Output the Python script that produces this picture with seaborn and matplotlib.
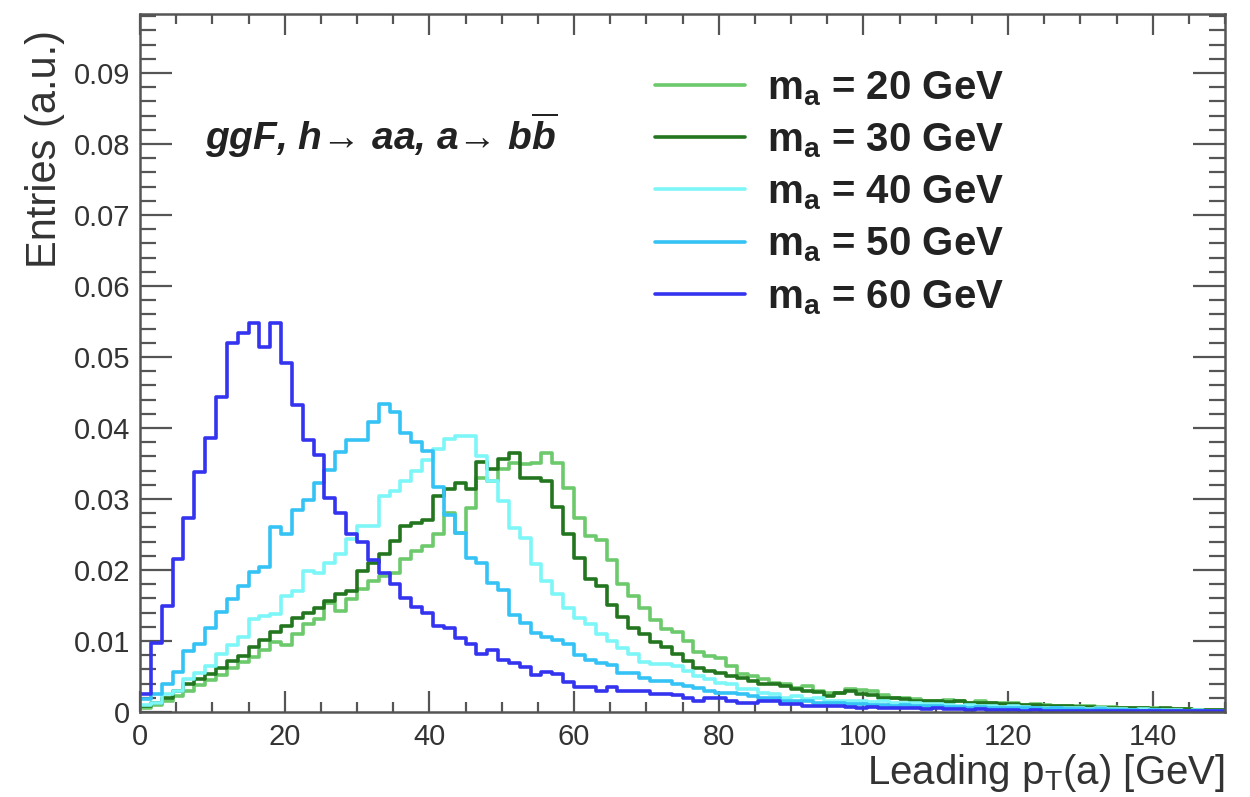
import numpy as np
import pandas as pd
import matplotlib
matplotlib.use("Agg")
import matplotlib.pyplot as plt
import seaborn as sns
from matplotlib.ticker import MultipleLocator, FuncFormatter

# Leading p_T(a) spectra, 1.5 GeV bins from 0 to 150 GeV, normalised to unit area
bin_width = 1.5
pt_min, pt_max = 0.0, 150.0

masses = [20, 30, 40, 50, 60]
labels = [r"$\mathbf{m_{a}}$ = %d GeV" % m for m in masses]
colors = ["#6cc96c", "#23761f", "#7cf6f6", "#35c3f5", "#3434f0"]

ma20 = [0.0005, 0.0010, 0.0015, 0.0022, 0.0030, 0.0038, 0.0045, 0.0052, 0.0062, 0.0070,
        0.0078, 0.0088, 0.0098, 0.0094, 0.0110, 0.0124, 0.0131, 0.0154, 0.0142, 0.0159,
        0.0173, 0.0185, 0.0192, 0.0196, 0.0215, 0.0227, 0.0234, 0.0251, 0.0280, 0.0252,
        0.0287, 0.0330, 0.0325, 0.0342, 0.0351, 0.0349, 0.0351, 0.0365, 0.0350, 0.0316,
        0.0273, 0.0248, 0.0242, 0.0214, 0.0180, 0.0163, 0.0147, 0.0130, 0.0117, 0.0112,
        0.0100, 0.0084, 0.0079, 0.0076, 0.0065, 0.0053, 0.0051, 0.0046, 0.0041, 0.0039,
        0.0034, 0.0037, 0.0030, 0.0027, 0.0027, 0.0032, 0.0031, 0.0029, 0.0024, 0.0020,
        0.0020, 0.0019, 0.0016, 0.0015, 0.0017, 0.0016, 0.0012, 0.0015, 0.0013, 0.0013,
        0.0012, 0.0010, 0.0011, 0.0010, 0.0009, 0.0009, 0.0008, 0.0008, 0.0007, 0.0007,
        0.0006, 0.0006, 0.0005, 0.0005, 0.0004, 0.0004, 0.0004, 0.0003, 0.0003, 0.0003]

ma30 = [0.0008, 0.0013, 0.0020, 0.0030, 0.0039, 0.0046, 0.0053, 0.0062, 0.0072, 0.0079,
        0.0091, 0.0102, 0.0112, 0.0121, 0.0133, 0.0140, 0.0147, 0.0156, 0.0166, 0.0170,
        0.0199, 0.0210, 0.0222, 0.0241, 0.0262, 0.0266, 0.0271, 0.0304, 0.0314, 0.0323,
        0.0314, 0.0352, 0.0342, 0.0356, 0.0365, 0.0330, 0.0330, 0.0325, 0.0289, 0.0250,
        0.0217, 0.0188, 0.0177, 0.0150, 0.0134, 0.0118, 0.0110, 0.0098, 0.0091, 0.0082,
        0.0072, 0.0062, 0.0058, 0.0055, 0.0051, 0.0048, 0.0044, 0.0039, 0.0039, 0.0037,
        0.0032, 0.0030, 0.0028, 0.0023, 0.0027, 0.0030, 0.0025, 0.0024, 0.0020, 0.0020,
        0.0019, 0.0016, 0.0015, 0.0015, 0.0014, 0.0015, 0.0013, 0.0013, 0.0012, 0.0011,
        0.0011, 0.0010, 0.0010, 0.0009, 0.0008, 0.0009, 0.0007, 0.0007, 0.0006, 0.0006,
        0.0006, 0.0005, 0.0005, 0.0004, 0.0005, 0.0004, 0.0004, 0.0003, 0.0003, 0.0003]

ma40 = [0.0010, 0.0013, 0.0025, 0.0030, 0.0046, 0.0055, 0.0065, 0.0081, 0.0095, 0.0105,
        0.0131, 0.0135, 0.0138, 0.0163, 0.0170, 0.0199, 0.0196, 0.0210, 0.0222, 0.0243,
        0.0262, 0.0262, 0.0304, 0.0311, 0.0325, 0.0339, 0.0355, 0.0370, 0.0384, 0.0388,
        0.0388, 0.0360, 0.0325, 0.0297, 0.0259, 0.0245, 0.0208, 0.0185, 0.0166, 0.0146,
        0.0132, 0.0124, 0.0110, 0.0100, 0.0090, 0.0082, 0.0070, 0.0068, 0.0067, 0.0065,
        0.0058, 0.0051, 0.0046, 0.0041, 0.0039, 0.0032, 0.0032, 0.0027, 0.0025, 0.0020,
        0.0023, 0.0018, 0.0020, 0.0015, 0.0015, 0.0016, 0.0015, 0.0014, 0.0015, 0.0013,
        0.0012, 0.0012, 0.0011, 0.0011, 0.0010, 0.0009, 0.0010, 0.0008, 0.0008, 0.0007,
        0.0008, 0.0007, 0.0006, 0.0006, 0.0005, 0.0006, 0.0005, 0.0004, 0.0005, 0.0004,
        0.0004, 0.0003, 0.0004, 0.0003, 0.0003, 0.0003, 0.0002, 0.0003, 0.0002, 0.0002]

ma50 = [0.0019, 0.0026, 0.0039, 0.0056, 0.0086, 0.0096, 0.0118, 0.0141, 0.0159, 0.0177,
        0.0197, 0.0204, 0.0261, 0.0251, 0.0285, 0.0299, 0.0322, 0.0341, 0.0366, 0.0383,
        0.0383, 0.0408, 0.0434, 0.0423, 0.0393, 0.0380, 0.0368, 0.0317, 0.0277, 0.0252,
        0.0217, 0.0210, 0.0182, 0.0172, 0.0137, 0.0125, 0.0111, 0.0106, 0.0101, 0.0096,
        0.0080, 0.0073, 0.0069, 0.0066, 0.0055, 0.0055, 0.0048, 0.0044, 0.0044, 0.0039,
        0.0037, 0.0034, 0.0030, 0.0027, 0.0027, 0.0025, 0.0023, 0.0020, 0.0020, 0.0015,
        0.0015, 0.0015, 0.0013, 0.0013, 0.0013, 0.0011, 0.0011, 0.0010, 0.0010, 0.0009,
        0.0010, 0.0008, 0.0008, 0.0008, 0.0007, 0.0007, 0.0006, 0.0007, 0.0006, 0.0005,
        0.0006, 0.0005, 0.0005, 0.0004, 0.0005, 0.0004, 0.0004, 0.0003, 0.0004, 0.0003,
        0.0003, 0.0003, 0.0002, 0.0003, 0.0002, 0.0002, 0.0002, 0.0002, 0.0001, 0.0002]

ma60 = [0.0025, 0.0097, 0.0149, 0.0216, 0.0273, 0.0338, 0.0386, 0.0444, 0.0520, 0.0534,
        0.0548, 0.0514, 0.0548, 0.0492, 0.0432, 0.0383, 0.0362, 0.0301, 0.0280, 0.0251,
        0.0239, 0.0214, 0.0196, 0.0180, 0.0161, 0.0148, 0.0139, 0.0121, 0.0118, 0.0104,
        0.0096, 0.0082, 0.0087, 0.0073, 0.0069, 0.0063, 0.0052, 0.0056, 0.0054, 0.0042,
        0.0035, 0.0035, 0.0030, 0.0035, 0.0030, 0.0030, 0.0030, 0.0025, 0.0025, 0.0024,
        0.0020, 0.0015, 0.0020, 0.0020, 0.0015, 0.0013, 0.0013, 0.0015, 0.0015, 0.0011,
        0.0011, 0.0008, 0.0008, 0.0008, 0.0008, 0.0007, 0.0006, 0.0007, 0.0006, 0.0005,
        0.0006, 0.0005, 0.0004, 0.0005, 0.0004, 0.0004, 0.0003, 0.0004, 0.0003, 0.0003,
        0.0003, 0.0002, 0.0003, 0.0002, 0.0002, 0.0002, 0.0002, 0.0001, 0.0002, 0.0001,
        0.0001, 0.0002, 0.0001, 0.0001, 0.0001, 0.0001, 0.0001, 0.0001, 0.0001, 0.0001]

series = [ma20, ma30, ma40, ma50, ma60]

edges = np.arange(pt_min, pt_max + bin_width / 2, bin_width)
centers = 0.5 * (edges[:-1] + edges[1:])

frames = []
for m, vals in zip(masses, series):
    frames.append(pd.DataFrame({"pt": centers, "w": vals, "mass": m}))
df = pd.concat(frames, ignore_index=True)

sns.set_theme(style="ticks")
plt.rcParams["font.family"] = ["Liberation Sans", "DejaVu Sans"]
plt.rcParams["mathtext.fontset"] = "custom"
plt.rcParams["mathtext.rm"] = "Liberation Sans"
plt.rcParams["mathtext.bf"] = "Liberation Sans:bold"
plt.rcParams["mathtext.it"] = "Liberation Sans:italic:bold"

fig = plt.figure(figsize=(12.5, 7.97), dpi=100)
ax = fig.add_axes([140 / 1250, 1 - 712 / 797, 1085 / 1250, 698 / 797])

for m, c, lab in zip(masses, colors, labels):
    sub = df[df["mass"] == m]
    sns.histplot(data=sub, x="pt", weights="w", binwidth=bin_width,
                 binrange=(pt_min, pt_max), element="step",
                 fill=False, color=c, linewidth=2.6, label=lab, ax=ax)

ax.set_xlim(pt_min, pt_max)
ax.set_ylim(0, 0.0983)

ax.xaxis.set_major_locator(MultipleLocator(20))
ax.xaxis.set_minor_locator(MultipleLocator(5))
ax.yaxis.set_major_locator(MultipleLocator(0.01))
ax.yaxis.set_minor_locator(MultipleLocator(0.002))
ax.yaxis.set_major_formatter(FuncFormatter(lambda v, p: "0" if abs(v) < 1e-9 else f"{v:.2f}"))
ax.xaxis.set_major_formatter(FuncFormatter(lambda v, p: f"{v:.0f}"))

tick_col = "#555555"
ax.tick_params(axis="both", which="both", direction="in", top=True, right=True,
               colors=tick_col, labelcolor="#333333", width=1.6)
ax.tick_params(axis="y", which="major", length=23, labelsize=21, pad=7)
ax.tick_params(axis="y", which="minor", length=11.5)
ax.tick_params(axis="x", which="major", length=15, labelsize=21, pad=8)
ax.tick_params(axis="x", which="minor", length=7.5)
for s in ax.spines.values():
    s.set_color("#555555")
    s.set_linewidth(1.8)

ax.set_xlabel(r"Leading p$_{\mathrm{T}}$(a) [GeV]", fontsize=29, color="#333333",
              loc="right", labelpad=1)
ax.set_ylabel("Entries (a.u.)", fontsize=30, color="#333333", loc="top")
ax.yaxis.set_label_coords(-0.069, 0.977)

ax.text(0.06, 0.805, "ggF, h\u2192 aa, a\u2192 b" + r"$\overline{b}$",
        transform=ax.transAxes, fontsize=28, fontweight="bold", fontstyle="italic",
        color="#222222", va="baseline", ha="left")

leg = ax.legend(loc="upper left", bbox_to_anchor=(655 / 1250, 1 - 69 / 797),
                bbox_transform=fig.transFigure, frameon=False,
                prop={"size": 29, "weight": "bold"}, handlelength=2.23,
                handletextpad=0.55, labelspacing=0.34, borderpad=0, borderaxespad=0)
for t in leg.get_texts():
    t.set_color("#222222")

fig.savefig("out.png", dpi=100, facecolor="white")
